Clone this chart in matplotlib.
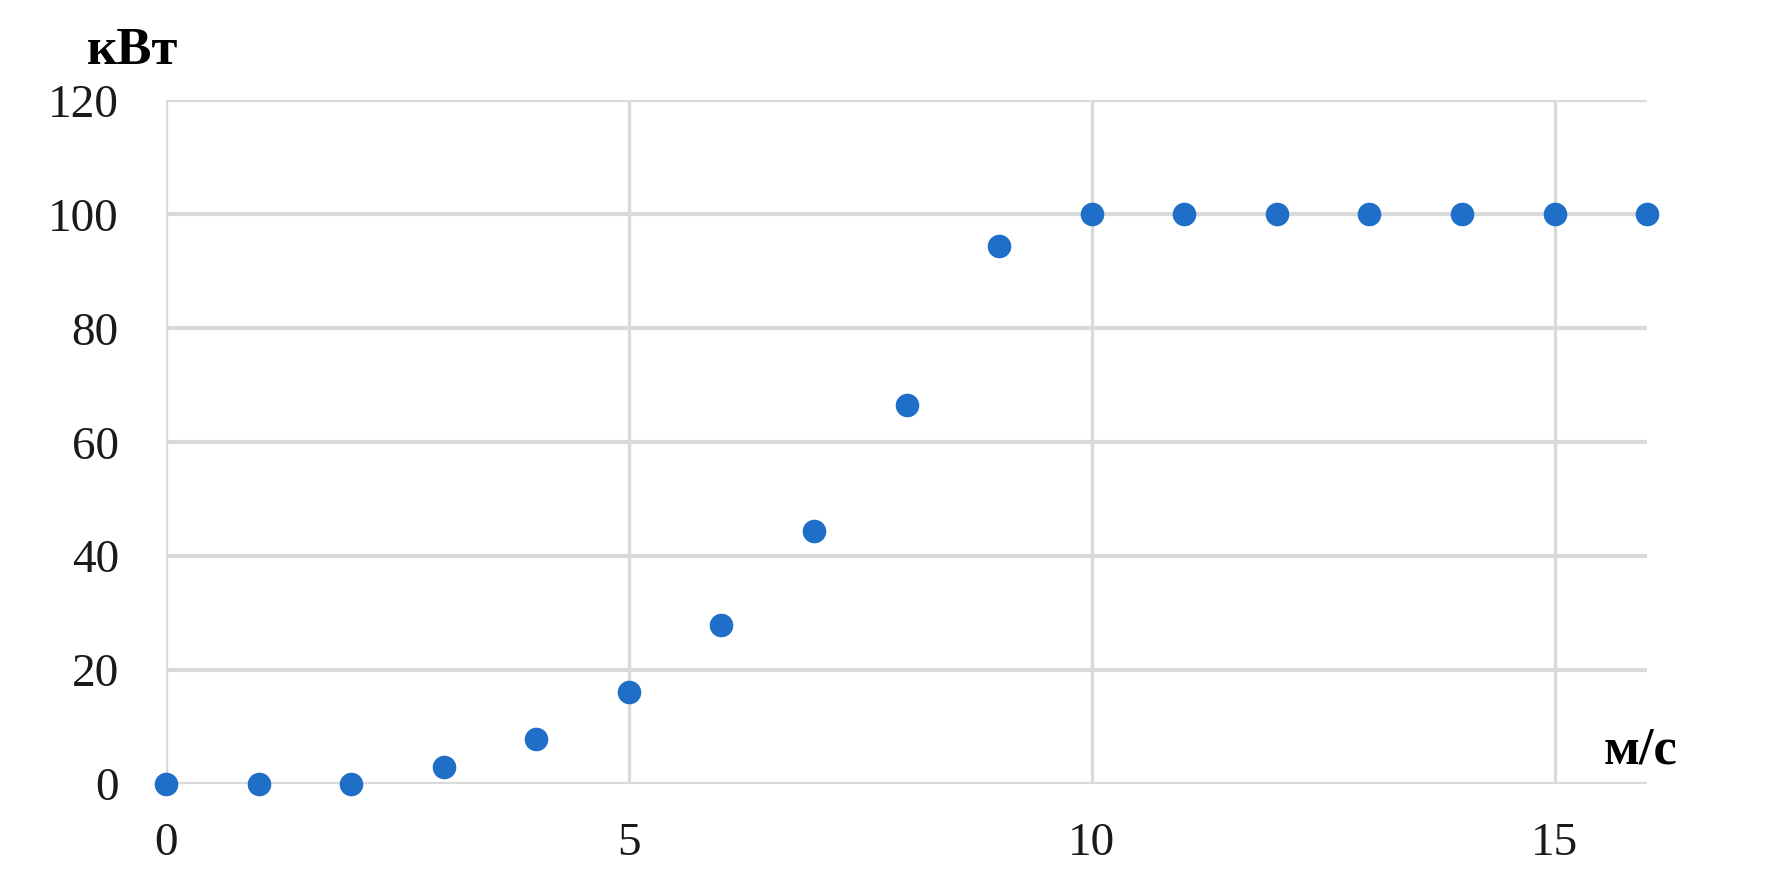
import matplotlib
matplotlib.use( "Agg" )
from matplotlib import pyplot as plt

# Data
wind_speed = [0, 1, 2, 3, 4, 5, 6, 7, 8, 9, 10, 11, 12, 13, 14, 15, 16]
power_kw   = [0, 0, 0, 3.0, 7.9, 16.1, 28.0, 44.4, 66.5, 94.4,
              100, 100, 100, 100, 100, 100, 100]
x_ticks    = [0, 5, 10, 15]
y_ticks    = [0, 20, 40, 60, 80, 100, 120]

plt.rcParams['font.family'] = ['Liberation Serif', 'DejaVu Serif']

fig = plt.figure( figsize=(17.72, 8.93), dpi=100 )
ax  = fig.add_axes( [0.0937, 0.122, 0.8358, 0.7655] )

ax.set_xlim( 0, 16 )
ax.set_ylim( 0, 120 )
ax.set_xticks( x_ticks )
ax.set_yticks( y_ticks )
for s in ax.spines.values():
    s.set_visible( False )

grid_color = '#dadada'
for y in y_ticks:
    ax.axhline( y, color=grid_color, lw=3.0, zorder=1 )
for x in x_ticks:
    ax.axvline( x, color=grid_color, lw=2.4, zorder=1 )

ax.plot( wind_speed, power_kw, 'o', color='#1f6fc8', markersize=17,
         markeredgewidth=0, clip_on=False, zorder=3 )

ax.tick_params( length=0, labelsize=34, colors='#1a1a1a' )
ax.tick_params( axis='y', pad=34 )
ax.tick_params( axis='x', pad=28 )

fig.text( 133/1772, 1 - 51/893, "кВт", fontsize=38, fontweight='bold',
          ha='center', va='center' )
fig.text( 1641/1772, 1 - 751/893, "м/с", fontsize=38, fontweight='bold',
          ha='center', va='center' )

fig.savefig( "out.png", dpi=100 )
